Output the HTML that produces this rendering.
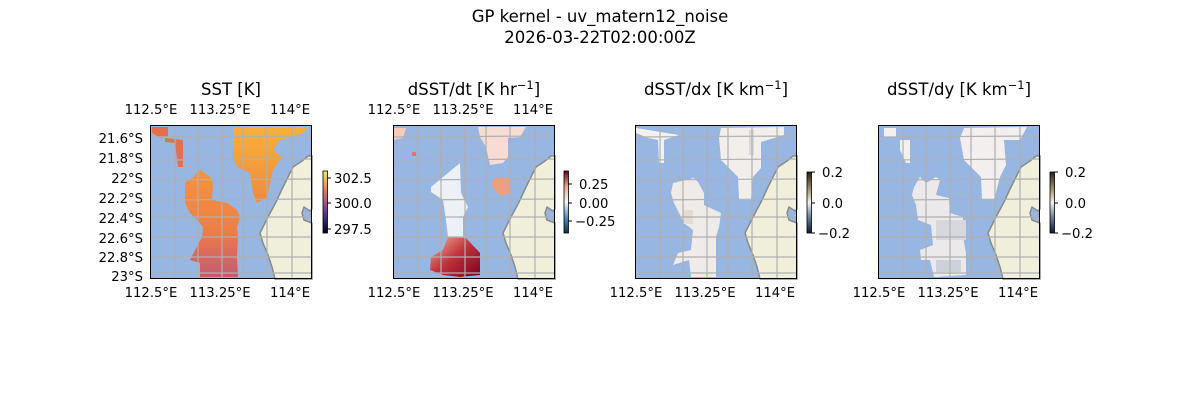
<!DOCTYPE html>
<html><head><meta charset="utf-8"><style>
html,body{margin:0;padding:0;background:#fff;}
svg{display:block;font-family:"DejaVu Sans","Liberation Sans",sans-serif;}
</style></head><body>
<svg width="1200" height="400" viewBox="0 0 1200 400" xmlns="http://www.w3.org/2000/svg">
<defs>
<linearGradient id="cbT" x1="0" y1="1" x2="0" y2="0"><stop offset="0" stop-color="#03051a"/><stop offset="0.25" stop-color="#3b2d8a"/><stop offset="0.5" stop-color="#b0508a"/><stop offset="0.75" stop-color="#f28a50"/><stop offset="1" stop-color="#e9f45f"/></linearGradient>
<linearGradient id="cbR" x1="0" y1="1" x2="0" y2="0"><stop offset="0" stop-color="#053061"/><stop offset="0.25" stop-color="#4393c3"/><stop offset="0.5" stop-color="#f7f7f7"/><stop offset="0.75" stop-color="#f4a582"/><stop offset="1" stop-color="#67001f"/></linearGradient>
<linearGradient id="cbD" x1="0" y1="1" x2="0" y2="0"><stop offset="0" stop-color="#051a35"/><stop offset="0.3" stop-color="#8090a8"/><stop offset="0.5" stop-color="#f5f2ee"/><stop offset="0.7" stop-color="#a89878"/><stop offset="1" stop-color="#2a2010"/></linearGradient>
<linearGradient id="sstA" x1="0" y1="0" x2="0" y2="1"><stop offset="0" stop-color="#f7b03a"/><stop offset="1" stop-color="#f08a3e"/></linearGradient>
<linearGradient id="sstB" x1="0" y1="0" x2="0" y2="1"><stop offset="0" stop-color="#f5953c"/><stop offset="0.55" stop-color="#f07e45"/><stop offset="1" stop-color="#c45a72"/></linearGradient>
<linearGradient id="redB" x1="0" y1="0" x2="1" y2="1"><stop offset="0" stop-color="#f4b59a"/><stop offset="0.5" stop-color="#c0303a"/><stop offset="1" stop-color="#7a0020"/></linearGradient>
<g id="land">
<polygon points="158,31 152,36 143,42 138,52 133,62 126,77 118,92 110,108 113,118 118,130 122,142 125,154 162,154 162,98 154,95 152,88 154,82 160,86 162,84 162,31" fill="#efefdb" stroke="#8a8a8a" stroke-width="1.5"/>
</g>
<g id="grid" stroke="#b0b0b0" stroke-width="1.2" fill="none">
<line x1="25" y1="0" x2="25" y2="154"/><line x1="48" y1="0" x2="48" y2="154"/><line x1="72" y1="0" x2="72" y2="154"/><line x1="93" y1="0" x2="93" y2="154"/><line x1="117" y1="0" x2="117" y2="154"/><line x1="142" y1="0" x2="142" y2="154"/>
<line x1="0" y1="12" x2="162" y2="11"/><line x1="0" y1="35" x2="162" y2="34"/><line x1="0" y1="55" x2="162" y2="54"/><line x1="0" y1="75" x2="162" y2="74"/><line x1="0" y1="92" x2="162" y2="92"/><line x1="0" y1="112" x2="162" y2="112"/><line x1="0" y1="132" x2="162" y2="132"/><line x1="0" y1="148" x2="162" y2="148"/>
</g>
</defs>

<text x="600" y="22" font-size="16.5" text-anchor="middle">GP kernel - uv_matern12_noise</text>
<text x="600" y="43" font-size="16.5" text-anchor="middle">2026-03-22T02:00:00Z</text>

<!-- Panel 1 -->
<g transform="translate(150,125)">
<rect width="162" height="154" fill="#97b6e1"/>
<polygon points="83,2 158,2 153,8 130,15 123,25 132,32 123,45 120,58 117,72 107,78 103,68 100,48 87,42 83,32 83,12" fill="url(#sstA)"/>
<polygon points="35,58 43,52 50,45 60,52 63,58 62,75 77,78 87,85 90,92 87,102 88,112 87,132 88,152 50,152 50,138 40,135 45,125 52,112 53,102 47,95 40,88 35,78" fill="url(#sstB)"/>
<polygon points="2,2 18,2 18,12 10,13 2,8" fill="#e56e4e"/>
<polygon points="15,13 33,15 33,42 28,42 25,18 15,17" fill="#e57050"/>
<use href="#land"/><use href="#grid"/>
<rect x="0.5" y="0.5" width="161" height="153" fill="none" stroke="#000" stroke-width="1"/>
</g>
<g font-size="13.2" fill="#000">
<text x="151" y="114" text-anchor="middle">112.5°E</text><text x="220" y="114" text-anchor="middle">113.25°E</text><text x="290" y="114" text-anchor="middle">114°E</text>
<text x="151" y="297" text-anchor="middle">112.5°E</text><text x="220" y="297" text-anchor="middle">113.25°E</text><text x="290" y="297" text-anchor="middle">114°E</text>
<g text-anchor="end"><text x="143" y="143">21.6°S</text><text x="143" y="163">21.8°S</text><text x="143" y="183">22°S</text><text x="143" y="203">22.2°S</text><text x="143" y="223">22.4°S</text><text x="143" y="243">22.6°S</text><text x="143" y="262">22.8°S</text><text x="143" y="281">23°S</text></g>
</g>
<text x="231" y="95" font-size="16.5" text-anchor="middle">SST [K]</text>
<rect x="323" y="171" width="4.5" height="62" fill="url(#cbT)" stroke="#000" stroke-width="0.8"/>
<g font-size="13.2"><line x1="327.5" y1="178" x2="331" y2="178" stroke="#000"/><text x="334" y="183">302.5</text>
<line x1="327.5" y1="203" x2="331" y2="203" stroke="#000"/><text x="334" y="208">300.0</text>
<line x1="327.5" y1="229" x2="331" y2="229" stroke="#000"/><text x="334" y="234">297.5</text></g>

<!-- Panel 2 -->
<g transform="translate(393,125)">
<rect width="162" height="154" fill="#97b6e1"/>
<polygon points="1,3 13,3 10,13 1,15" fill="#f6cdbb"/>
<rect x="19" y="27" width="4" height="4" fill="#e8775e"/>
<polygon points="85,2 133,2 127,12 115,13 115,32 110,38 97,40 93,22 87,12" fill="#f6dcd2"/>
<polygon points="102,53 117,52 118,68 107,71 98,60" fill="#ef9e82"/>
<polygon points="38,62 67,38 68,68 75,82 70,92 70,112 55,112 53,95 50,75 38,67" fill="#edf1f5"/>
<polygon points="55,112 73,113 87,128 87,150 67,152 50,150 37,145 38,132 50,125" fill="url(#redB)"/>
<use href="#land"/><use href="#grid"/>
<rect x="0.5" y="0.5" width="161" height="153" fill="none" stroke="#000" stroke-width="1"/>
</g>
<g font-size="13.2">
<text x="394" y="114" text-anchor="middle">112.5°E</text><text x="463" y="114" text-anchor="middle">113.25°E</text><text x="533" y="114" text-anchor="middle">114°E</text>
<text x="394" y="297" text-anchor="middle">112.5°E</text><text x="463" y="297" text-anchor="middle">113.25°E</text><text x="533" y="297" text-anchor="middle">114°E</text>
</g>
<text x="474" y="95" font-size="16.5" text-anchor="middle">dSST/dt [K hr<tspan dy="-6" font-size="11.5">−1</tspan><tspan dy="6">]</tspan></text>
<rect x="564" y="171" width="4.5" height="62" fill="url(#cbR)" stroke="#000" stroke-width="0.8"/>
<g font-size="13.2"><line x1="568.5" y1="184" x2="572" y2="184" stroke="#000"/><text x="579" y="189">0.25</text>
<line x1="568.5" y1="203" x2="572" y2="203" stroke="#000"/><text x="579" y="208">0.00</text>
<line x1="568.5" y1="221" x2="572" y2="221" stroke="#000"/><text x="575" y="226">−0.25</text></g>

<!-- Panel 3 -->
<g transform="translate(635,125)">
<rect width="162" height="154" fill="#97b6e1"/>
<polygon points="86,3 149,2 149,10 126,17 126,43 118,52 116,75 104,75 103,52 94,43 86,35 84,13" fill="#f1eeec"/>
<polygon points="1,3 44,10 29,15 29,38 24,38 23,15 13,13 1,8" fill="#f3f0ee"/>
<polygon points="38,58 59,53 63,57 69,68 69,80 86,88 84,102 81,112 81,152 56,152 54,135 38,140 43,128 56,125 58,105 49,98 39,78 36,68" fill="#efebe8"/>
<rect x="114" y="5" width="5" height="25" fill="#d8d8da"/>
<rect x="48" y="85" width="10" height="14" fill="#e2dcd2"/>
<use href="#land"/><use href="#grid"/>
<rect x="0.5" y="0.5" width="161" height="153" fill="none" stroke="#000" stroke-width="1"/>
</g>
<g font-size="13.2">
<text x="636" y="297" text-anchor="middle">112.5°E</text><text x="705" y="297" text-anchor="middle">113.25°E</text><text x="775" y="297" text-anchor="middle">114°E</text>
</g>
<text x="716" y="95" font-size="16.5" text-anchor="middle">dSST/dx [K km<tspan dy="-6" font-size="11.5">−1</tspan><tspan dy="6">]</tspan></text>
<rect x="807" y="172" width="4.5" height="61" fill="url(#cbD)" stroke="#000" stroke-width="0.8"/>
<g font-size="13.2"><line x1="811.5" y1="172" x2="815" y2="172" stroke="#000"/><text x="822" y="177">0.2</text>
<line x1="811.5" y1="203" x2="815" y2="203" stroke="#000"/><text x="822" y="208">0.0</text>
<line x1="811.5" y1="233" x2="815" y2="233" stroke="#000"/><text x="818" y="238">−0.2</text></g>

<!-- Panel 4 -->
<g transform="translate(878,125)">
<rect width="162" height="154" fill="#97b6e1"/>
<polygon points="86,3 149,2 142,15 126,15 128,40 122,52 116,75 104,75 103,52 94,43 86,35 82,13" fill="#f2efee"/>
<polygon points="6,3 18,3 18,12 6,12" fill="#f3f0ee"/>
<polygon points="22,15 32,15 32,38 28,38 22,25" fill="#f3f0ee"/>
<polygon points="36,62 42,52 48,58 58,52 62,55 58,70 71,73 72,88 85,92 85,112 88,128 88,150 56,152 52,135 43,135 42,125 55,120 53,100 40,95 38,80 34,70" fill="#ebe9ea"/>
<rect x="58" y="95" width="30" height="20" fill="#d6d8de"/>
<rect x="58" y="135" width="25" height="12" fill="#cdd2da"/>
<use href="#land"/><use href="#grid"/>
<rect x="0.5" y="0.5" width="161" height="153" fill="none" stroke="#000" stroke-width="1"/>
</g>
<g font-size="13.2">
<text x="879" y="297" text-anchor="middle">112.5°E</text><text x="948" y="297" text-anchor="middle">113.25°E</text><text x="1018" y="297" text-anchor="middle">114°E</text>
</g>
<text x="959" y="95" font-size="16.5" text-anchor="middle">dSST/dy [K km<tspan dy="-6" font-size="11.5">−1</tspan><tspan dy="6">]</tspan></text>
<rect x="1050" y="172" width="4.5" height="61" fill="url(#cbD)" stroke="#000" stroke-width="0.8"/>
<g font-size="13.2"><line x1="1054.5" y1="172" x2="1058" y2="172" stroke="#000"/><text x="1065" y="177">0.2</text>
<line x1="1054.5" y1="203" x2="1058" y2="203" stroke="#000"/><text x="1065" y="208">0.0</text>
<line x1="1054.5" y1="233" x2="1058" y2="233" stroke="#000"/><text x="1061" y="238">−0.2</text></g>
</svg>
</body></html>
